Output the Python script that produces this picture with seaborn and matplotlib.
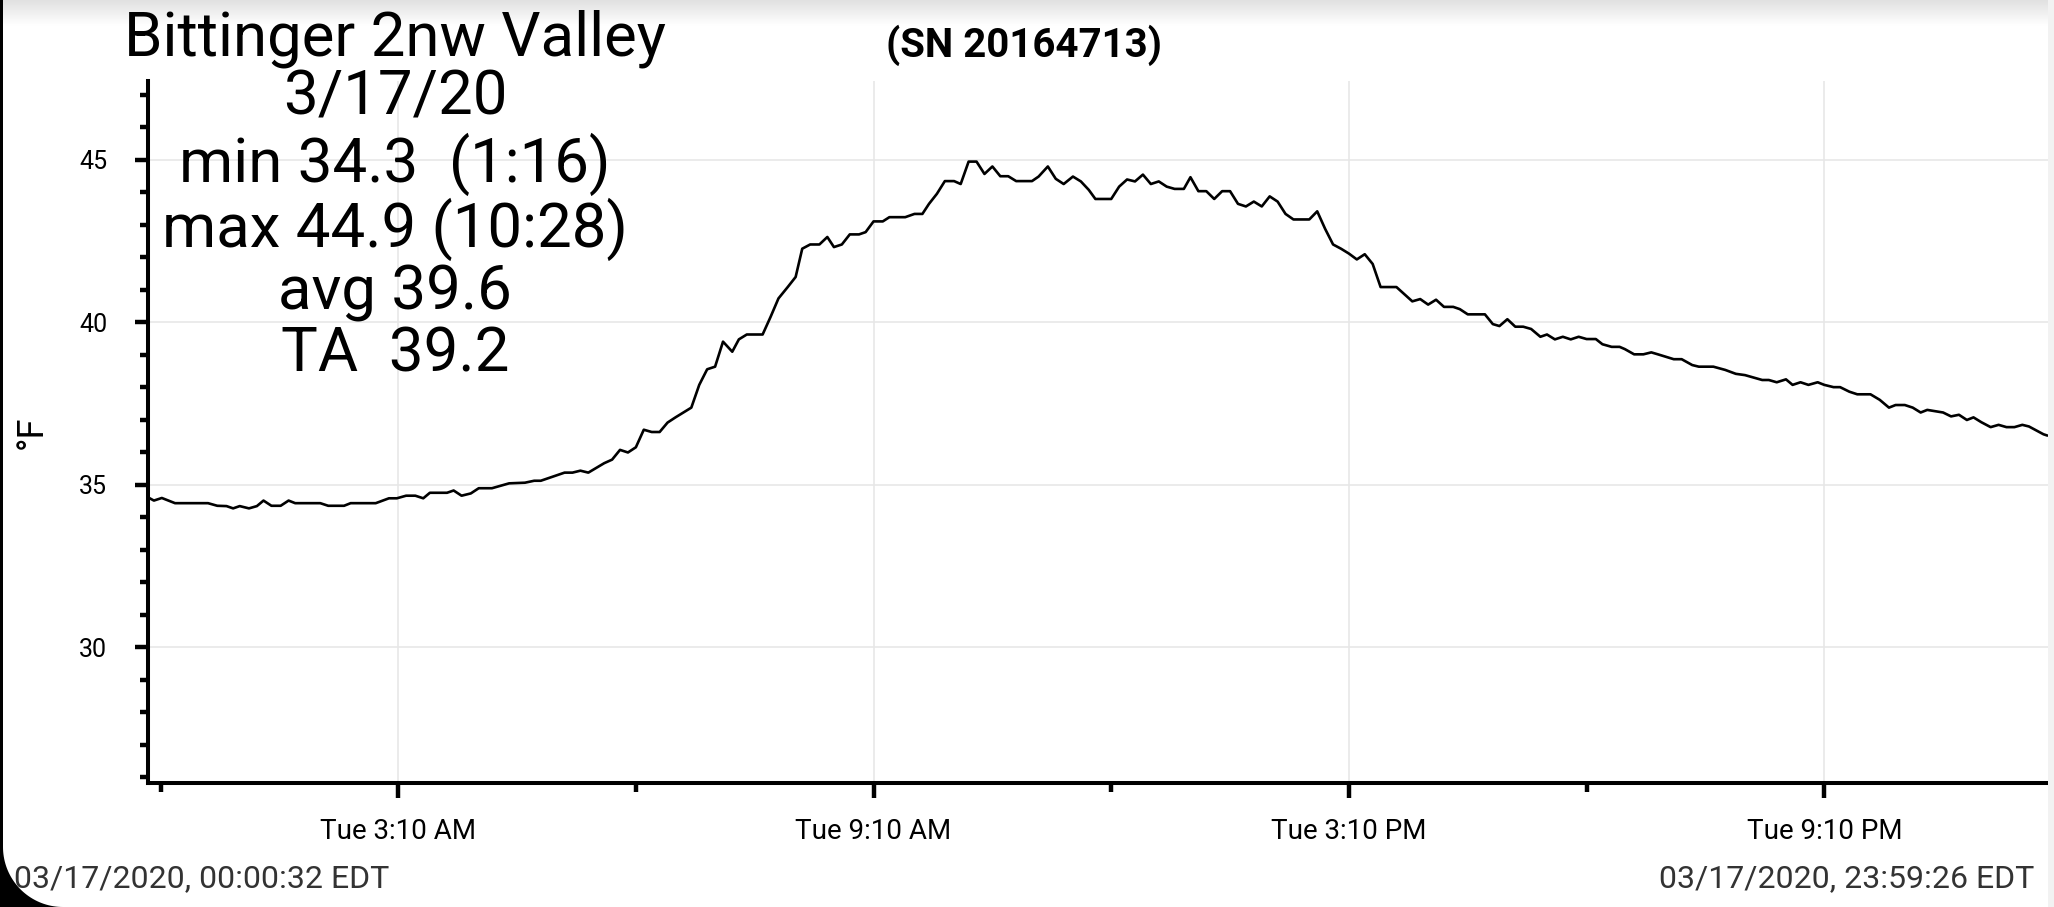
import numpy as np
import pandas as pd
import matplotlib
matplotlib.use("Agg")
import matplotlib.pyplot as plt
import seaborn as sns
from matplotlib.patches import Polygon, Rectangle

# text of the chart
station = "Bittinger 2nw Valley"
serial = "(SN 20164713)"
stats_lines = ["3/17/20", "min 34.3  (1:16)", "max 44.9 (10:28)", "avg 39.6", "TA  39.2"]
start_label = "03/17/2020, 00:00:32 EDT"
end_label = "03/17/2020, 23:59:26 EDT"
y_label = "°F"

# logger readings, minutes after midnight and deg F
minutes = [0, 5, 11, 21, 46, 53, 60, 65, 70, 77, 83, 88, 94, 101, 107, 112, 131, 137, 149, 154,
           173, 183, 189, 196, 203, 209, 214, 227, 232, 238, 245, 251, 261, 274, 286, 293, 298,
           316, 322, 328, 334, 346, 352, 358, 364, 370, 376, 382, 388, 394, 400, 406, 412, 418,
           424, 430, 436, 443, 448, 454, 466, 472, 478, 485, 491, 496, 502, 509, 515, 520, 526,
           532, 539, 544, 550, 557, 562, 574, 581, 587, 592, 598, 604, 611, 616, 622, 628, 634,
           640, 646, 652, 658, 670, 675, 682, 688, 694, 701, 707, 713, 718, 730, 736, 742, 748,
           754, 760, 766, 772, 778, 785, 790, 796, 802, 808, 814, 820, 826, 832, 838, 844, 850,
           856, 862, 868, 880, 886, 892, 898, 904, 910, 916, 922, 928, 934, 946, 958, 964, 970,
           976, 982, 989, 994, 1000, 1013, 1019, 1024, 1030, 1036, 1042, 1048, 1055, 1060, 1066,
           1072, 1078, 1084, 1090, 1097, 1102, 1109, 1115, 1119, 1126, 1133, 1139, 1144, 1156,
           1162, 1170, 1175, 1186, 1195, 1203, 1210, 1223, 1228, 1234, 1241, 1246, 1252, 1258,
           1265, 1270, 1277, 1282, 1289, 1295, 1305, 1312, 1319, 1324, 1331, 1337, 1343, 1348,
           1360, 1366, 1372, 1378, 1383, 1389, 1396, 1402, 1408, 1414, 1420, 1425, 1431, 1436, 1439]
temps = [34.62, 34.52, 34.6, 34.44, 34.44, 34.36, 34.35, 34.28, 34.35, 34.28, 34.35, 34.52, 34.36,
         34.36, 34.52, 34.44, 34.44, 34.36, 34.36, 34.44, 34.44, 34.59, 34.59, 34.67, 34.67, 34.59,
         34.76, 34.76, 34.83, 34.67, 34.74, 34.9, 34.9, 35.05, 35.07, 35.13, 35.13, 35.38, 35.38,
         35.44, 35.38, 35.67, 35.78, 36.08, 36.0, 36.16, 36.7, 36.63, 36.63, 36.92, 37.08, 37.23,
         37.38, 38.08, 38.56, 38.64, 39.41, 39.1, 39.48, 39.63, 39.63, 40.17, 40.74, 41.09, 41.4,
         42.27, 42.4, 42.4, 42.63, 42.32, 42.4, 42.71, 42.71, 42.78, 43.11, 43.11, 43.24, 43.24,
         43.34, 43.34, 43.65, 43.96, 44.35, 44.35, 44.26, 44.95, 44.95, 44.57, 44.8, 44.5, 44.5,
         44.35, 44.35, 44.49, 44.8, 44.42, 44.26, 44.49, 44.34, 44.08, 43.8, 43.8, 44.18, 44.4,
         44.34, 44.55, 44.26, 44.34, 44.18, 44.11, 44.11, 44.47, 44.04, 44.04, 43.8, 44.04, 44.04,
         43.65, 43.57, 43.72, 43.57, 43.88, 43.72, 43.34, 43.17, 43.17, 43.42, 42.88, 42.4, 42.27,
         42.12, 41.94, 42.1, 41.8, 41.09, 41.09, 40.65, 40.72, 40.55, 40.7, 40.48, 40.48, 40.41,
         40.25, 40.25, 39.95, 39.89, 40.1, 39.87, 39.87, 39.8, 39.56, 39.63, 39.48, 39.56, 39.48,
         39.56, 39.49, 39.49, 39.33, 39.25, 39.25, 39.18, 39.02, 39.02, 39.08, 39.02, 38.87, 38.87,
         38.69, 38.64, 38.64, 38.54, 38.42, 38.38, 38.23, 38.23, 38.16, 38.25, 38.08, 38.16, 38.08,
         38.16, 38.08, 38.01, 38.01, 37.87, 37.79, 37.79, 37.62, 37.38, 37.46, 37.46, 37.38, 37.23,
         37.31, 37.23, 37.11, 37.16, 37.0, 37.08, 36.93, 36.78, 36.85, 36.78, 36.78, 36.85, 36.8,
         36.67, 36.56, 36.52]

major_tick_times = ["03:10", "09:10", "15:10", "21:10"]
major_tick_labels = ["Tue 3:10 AM", "Tue 9:10 AM", "Tue 3:10 PM", "Tue 9:10 PM"]
minor_tick_times = ["00:10", "06:10", "12:10", "18:10"]
y_major = [30, 35, 40, 45]

day = pd.Timestamp("2020-03-17")
df = pd.DataFrame({"time": day + pd.to_timedelta(minutes, unit="m"), "temp": temps})
df.loc[0, "time"] = day + pd.Timedelta(seconds=32)

sns.set_theme(style="white")
plt.rcParams["font.family"] = ["Roboto", "DejaVu Sans"]

W, H = 2054, 907
fig = plt.figure(figsize=(W / 100, H / 100), dpi=100)
fig.patch.set_facecolor("white")


def fx(px):
    return px / W


def fy(py):
    return 1 - py / H


ax = fig.add_axes([fx(148), fy(783), fx(2048) - fx(148), fy(81) - fy(783)])
sns.lineplot(data=df, x="time", y="temp", color="black", linewidth=1.9, ax=ax)

ax.set_xlim(day + pd.Timedelta(seconds=32), day + pd.Timedelta(hours=23, minutes=59, seconds=26))
ax.set_ylim(25.83, 47.43)

ax.set_xticks([day + pd.Timedelta(t + ":00") for t in major_tick_times])
ax.set_xticklabels(major_tick_labels)
ax.set_xticks([day + pd.Timedelta(t + ":00") for t in minor_tick_times], minor=True)
ax.set_yticks(y_major)
ax.set_yticks([v for v in range(26, 48) if v not in y_major], minor=True)

ax.grid(True, which="major", color="#e6e6e6", linewidth=1.1)
for s in ["top", "right"]:
    ax.spines[s].set_visible(False)
for s in ["left", "bottom"]:
    ax.spines[s].set_color("black")
    ax.spines[s].set_linewidth(2.9)

ax.tick_params(axis="x", which="major", length=11, width=3.2, color="black", pad=14,
               labelsize=20, labelcolor="black", bottom=True)
ax.tick_params(axis="x", which="minor", length=6.5, width=3.2, color="black", bottom=True)
ax.tick_params(axis="y", which="major", length=9.5, width=3.2, color="black", pad=20,
               labelsize=18, labelcolor="black", left=True)
ax.tick_params(axis="y", which="minor", length=5.5, width=3.2, color="black", left=True)

ax.set_xlabel("")
ax.set_ylabel(y_label, fontsize=26, color="black")
ax.yaxis.set_label_coords(-0.0516, 0.5)

# station name and daily summary block
fig.text(fx(395), fy(55), station, ha="center", va="baseline", fontsize=44.5, color="black")
baselines = [115, 182, 247, 310, 372]
for line, b in zip(stats_lines, baselines):
    fig.text(fx(395), fy(b), line, ha="center", va="baseline", fontsize=44.5, color="black")
fig.text(fx(1024), fy(57), serial, ha="center", va="baseline", fontsize=29,
         fontweight="bold", color="black")

fig.text(fx(14), fy(887), start_label, ha="left", va="baseline", fontsize=23, color="#333333")
fig.text(fx(2034), fy(887), end_label, ha="right", va="baseline", fontsize=23, color="#333333")

# screenshot frame: top shade, left edge, rounded corner, right strip
shade = fig.add_axes([0, fy(26), 1, 26 / H], zorder=-1)
shade.imshow(np.linspace(0.88, 1.0, 50).reshape(-1, 1), cmap="gray", vmin=0, vmax=1,
             aspect="auto", extent=[0, 1, 0, 1])
shade.set_axis_off()
fig.patches.append(Rectangle((0, 0), fx(3), 1, transform=fig.transFigure,
                             facecolor="black", edgecolor="none"))
fig.patches.append(Rectangle((fx(2048), 0), fx(6), 1, transform=fig.transFigure,
                             facecolor="#f2f2f2", edgecolor="none"))
t = np.linspace(0, np.pi / 2, 40)
arc = [(fx(63 - 60 * np.cos(a)), fy(847 + 60 * np.sin(a))) for a in t]
corner = arc + [(fx(63), fy(910)), (0, fy(910)), (0, fy(847))]
fig.patches.append(Polygon(corner, closed=True, transform=fig.transFigure,
                           facecolor="black", edgecolor="none"))

fig.savefig("out.png", dpi=100, facecolor="white")
